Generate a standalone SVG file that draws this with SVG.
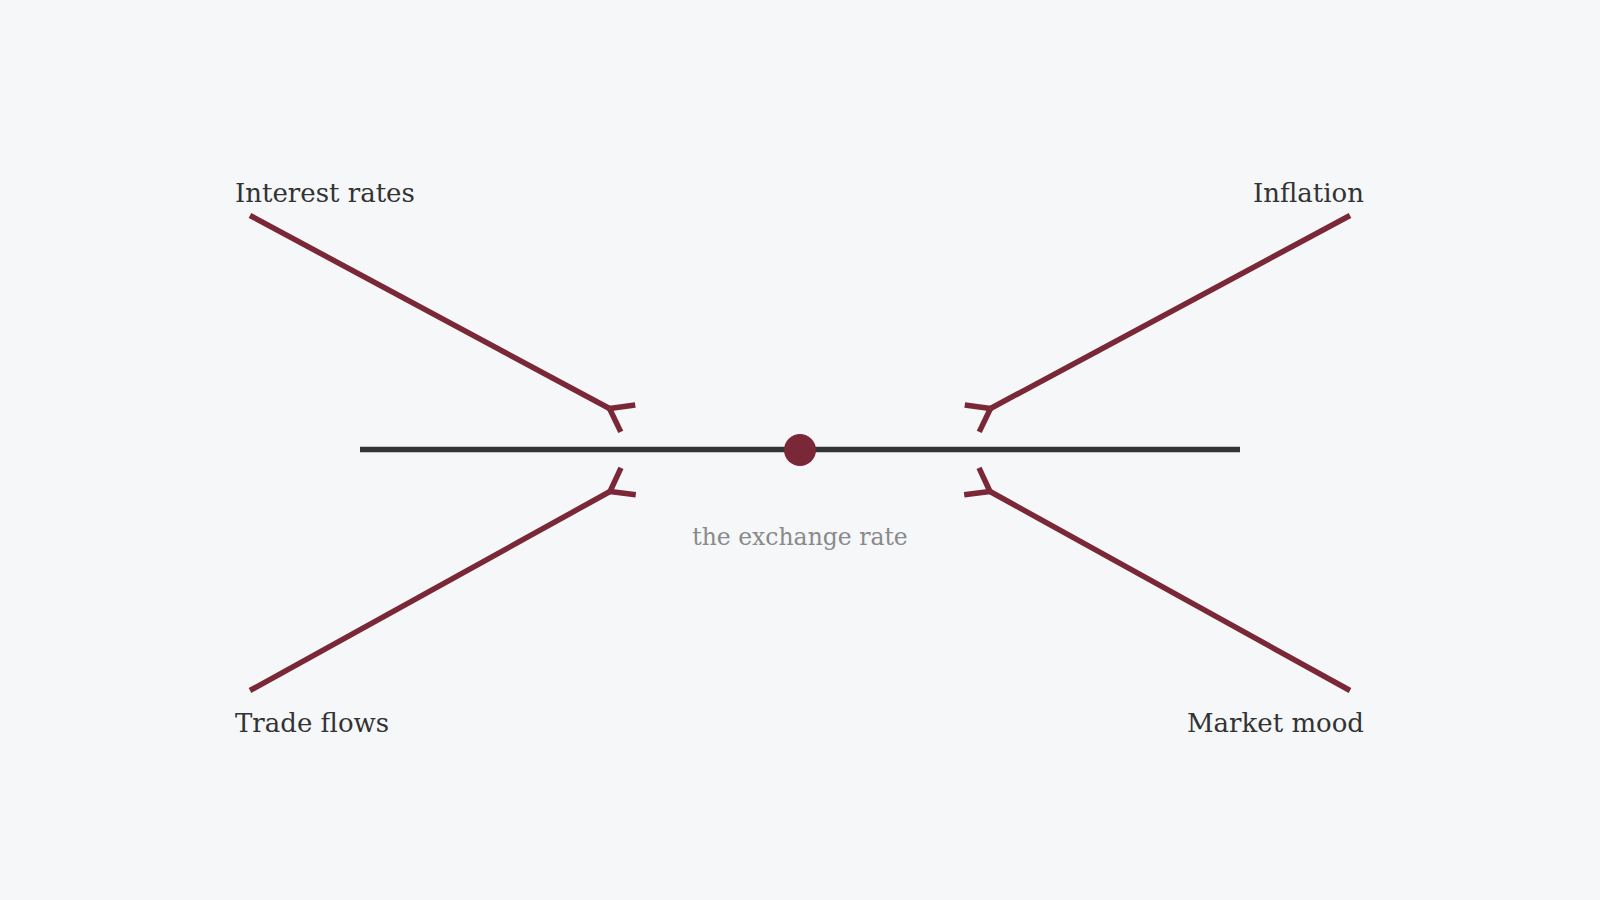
<svg xmlns="http://www.w3.org/2000/svg" width="1600" height="900" viewBox="0 0 1600 900">
  <defs>
    <marker id="fork" markerUnits="userSpaceOnUse" refX="0" refY="0" markerWidth="40" markerHeight="40" orient="auto" overflow="visible">
      <path d="M0,0 L21,-15.3 M0,0 L21,15.3" fill="none" stroke="#7a2838" stroke-width="5.5"/>
    </marker>
  </defs>
  <style>
    .conn { fill: none; stroke: #7a2838; stroke-width: 5.5; marker-end: url(#fork); }
    .label { font-family: "DejaVu Serif", "Liberation Serif", serif; font-size: 26px; fill: #333333; }
    .sub { font-family: "DejaVu Serif", "Liberation Serif", serif; font-size: 23.5px; fill: #8a8a8a; }
  </style>
  <rect width="1600" height="900" fill="#f5f7f9"/>

  <g id="axis">
    <line x1="360" y1="449.5" x2="1240" y2="449.5" stroke="#333333" stroke-width="5.5"/>
    <circle cx="800" cy="450" r="16" fill="#7a2838"/>
    <text class="sub" x="800" y="545" text-anchor="middle">the exchange rate</text>
  </g>

  <g id="connectors">
    <line class="conn" x1="250" y1="215.5" x2="609.5" y2="408.5"/>
    <line class="conn" x1="250" y1="690.5" x2="610" y2="491.5"/>
    <line class="conn" x1="1350" y1="215.5" x2="990.5" y2="408.5"/>
    <line class="conn" x1="1350" y1="690.5" x2="990" y2="491.5"/>
  </g>

  <g id="node-interest-rates">
    <text class="label" x="235" y="202">Interest rates</text>
  </g>
  <g id="node-inflation">
    <text class="label" x="1364" y="202" text-anchor="end">Inflation</text>
  </g>
  <g id="node-trade-flows">
    <text class="label" x="235" y="732">Trade flows</text>
  </g>
  <g id="node-market-mood">
    <text class="label" x="1364" y="732" text-anchor="end">Market mood</text>
  </g>
</svg>
